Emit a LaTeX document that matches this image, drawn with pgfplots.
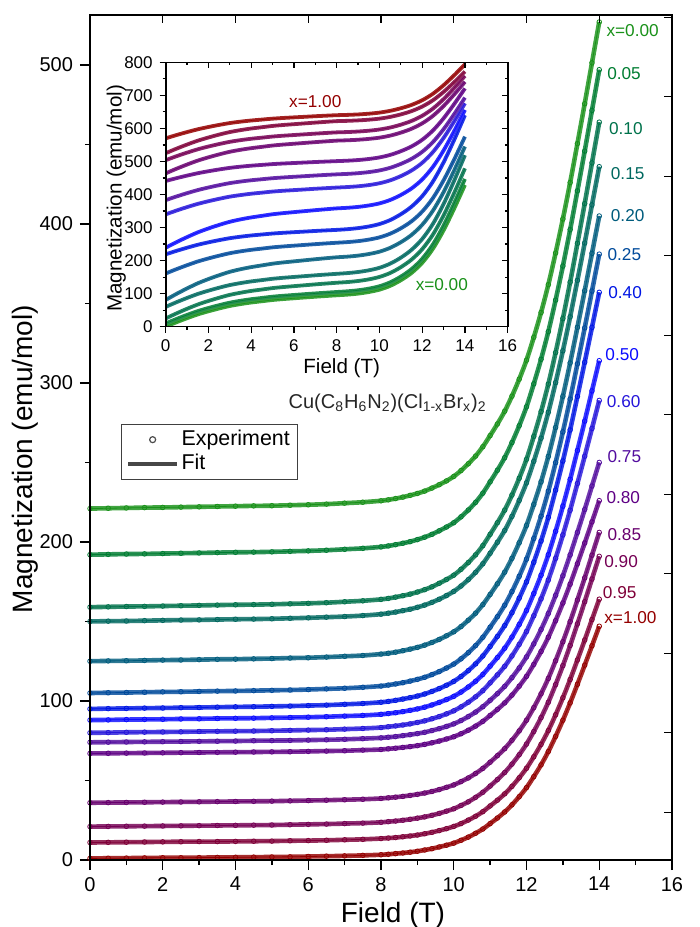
\documentclass[border=0pt]{standalone}
\usepackage{fontspec}
\setmainfont{Liberation Sans}
\usepackage{pgfplots}
\usepackage{pgfplotstable}
\pgfplotsset{compat=1.18}

\definecolor{c00}{RGB}{25,145,25}
\definecolor{c05}{RGB}{0,125,50}
\definecolor{c10}{RGB}{0,114,75}
\definecolor{c15}{RGB}{0,104,95}
\definecolor{c20}{RGB}{0,92,125}
\definecolor{c25}{RGB}{0,74,155}
\definecolor{c40}{RGB}{0,22,228}
\definecolor{c50}{RGB}{12,12,255}
\definecolor{c60}{RGB}{38,22,218}
\definecolor{c75}{RGB}{82,12,158}
\definecolor{c80}{RGB}{94,0,132}
\definecolor{c85}{RGB}{104,0,110}
\definecolor{c90}{RGB}{117,0,84}
\definecolor{c95}{RGB}{127,0,56}
\definecolor{c100}{RGB}{148,0,0}

\pgfplotstableread{
H m00 m05 m10 m15 m20 m25 m40 m50 m60 m75 m80 m85 m90 m95 m100
0 221 192 159 150 125 105 95 88 80 74 67 36 21 11 1
0.5 221.2 192.2 159.2 150.2 125.2 105.2 95.2 88.1 80.1 74.1 67.1 36.1 21.1 11.1 1.1
1 221.4 192.4 159.4 150.3 125.3 105.3 95.3 88.3 80.3 74.2 67.2 36.2 21.2 11.2 1.2
1.5 221.6 192.5 159.5 150.5 125.5 105.5 95.5 88.4 80.4 74.3 67.3 36.3 21.3 11.3 1.3
2 221.7 192.7 159.7 150.7 125.7 105.7 95.6 88.5 80.5 74.4 67.4 36.4 21.4 11.4 1.4
2.5 221.9 192.9 159.9 150.9 125.8 105.8 95.8 88.7 80.6 74.5 67.5 36.5 21.5 11.5 1.4
3 222.1 193.1 160.1 151.0 126.0 106.0 95.9 88.8 80.8 74.6 67.6 36.6 21.6 11.6 1.5
3.5 222.3 193.3 160.3 151.2 126.2 106.2 96.1 89.0 80.9 74.7 67.7 36.7 21.7 11.6 1.6
4 222.5 193.5 160.5 151.4 126.3 106.3 96.3 89.1 81.0 74.8 67.8 36.8 21.8 11.7 1.7
4.5 222.7 193.6 160.6 151.5 126.5 106.5 96.4 89.2 81.1 75.0 67.9 36.9 21.9 11.8 1.8
5 222.8 193.8 160.8 151.7 126.7 106.7 96.6 89.4 81.3 75.1 68.0 37.0 22.0 11.9 1.9
5.5 223.1 194.1 161.1 152.0 127.0 106.9 96.8 89.6 81.5 75.2 68.1 37.2 22.2 12.1 2.0
6 223.4 194.4 161.4 152.3 127.2 107.2 97.1 89.8 81.7 75.4 68.3 37.4 22.4 12.2 2.2
6.5 223.8 194.8 161.8 152.7 127.6 107.6 97.4 90.1 81.9 75.6 68.5 37.6 22.6 12.4 2.4
7 224.4 195.4 162.4 153.1 128.1 108.0 97.9 90.5 82.3 75.9 68.7 37.9 22.9 12.7 2.6
7.5 225.0 196.0 163.0 153.7 128.6 108.6 98.4 90.9 82.7 76.3 69.1 38.2 23.2 13.0 2.9
8 225.9 196.9 163.9 154.6 129.5 109.4 99.2 91.6 83.3 76.8 69.5 38.7 23.7 13.5 3.3
8.2 226.5 197.5 164.5 155.2 130.0 110.0 99.7 92.1 83.8 77.2 69.9 39.1 24.1 13.8 3.6
8.4 227.3 198.3 165.3 155.9 130.7 110.7 100.4 92.6 84.3 77.6 70.3 39.5 24.5 14.1 4.0
8.6 228.2 199.2 166.2 156.8 131.6 111.5 101.2 93.3 84.9 78.2 70.8 40.0 25.0 14.6 4.4
8.8 229.3 200.2 167.2 157.7 132.6 112.5 102.1 94.1 85.6 78.8 71.3 40.6 25.6 15.1 4.9
9.0 230.5 201.5 168.5 158.9 133.7 113.6 103.1 95.0 86.5 79.5 71.9 41.3 26.3 15.7 5.5
9.2 232.0 203.0 170.0 160.3 135.1 114.9 104.4 96.1 87.5 80.3 72.7 42.1 27.1 16.5 6.3
9.4 233.9 204.8 171.8 162.0 136.8 116.6 106.0 97.5 88.8 81.4 73.7 43.1 28.1 17.4 7.1
9.6 236.0 207.0 174.0 164.0 138.7 118.5 107.8 99.1 90.2 82.6 74.8 44.3 29.3 18.5 8.2
9.8 238.4 209.4 176.4 166.3 141.0 120.7 109.9 100.9 91.9 84.0 76.1 45.7 30.7 19.7 9.3
10.0 241.2 212.1 179.1 168.9 143.5 123.2 112.3 102.9 93.8 85.6 77.5 47.2 32.2 21.1 10.6
10.2 244.9 215.8 182.8 172.3 146.8 126.5 115.4 105.6 96.3 87.7 79.4 49.3 34.3 22.9 12.4
10.4 249.2 220.1 187.1 176.3 150.8 130.4 119.1 108.8 99.2 90.2 81.6 51.6 36.6 25.1 14.4
10.6 254.0 224.9 191.9 180.9 155.2 134.8 123.3 112.4 102.6 93.0 84.2 54.4 39.4 27.5 16.8
10.8 259.9 230.7 197.7 186.3 160.6 140.1 128.3 116.7 106.5 96.4 87.2 57.6 42.6 30.4 19.5
11.0 266.9 237.8 204.8 192.9 167.0 146.4 134.3 121.9 111.4 100.4 90.9 61.5 46.5 34.0 22.9
11.2 274.2 245.1 212.1 199.8 173.7 153.0 140.6 127.3 116.4 104.6 94.7 65.6 50.6 37.6 26.4
11.4 282.2 253.0 220.0 207.2 181.0 160.2 147.4 133.2 121.8 109.2 98.8 70.0 55.0 41.6 30.2
11.6 291.7 262.5 229.5 216.1 189.7 168.8 155.5 140.2 128.3 114.7 103.7 75.3 60.3 46.3 34.7
11.8 302.4 273.1 240.1 226.1 199.5 178.4 164.7 148.1 135.6 120.8 109.3 81.2 66.2 51.7 39.8
12.0 314.3 285.0 252.0 237.2 210.4 189.2 174.9 156.9 143.7 127.7 115.5 87.9 72.9 57.7 45.5
12.2 328.7 299.4 266.4 250.7 223.6 202.2 187.2 167.6 153.6 135.9 123.0 95.8 80.8 64.9 52.4
12.4 344.3 314.9 281.9 265.3 237.8 216.2 200.6 179.1 164.2 144.9 131.1 104.5 89.5 72.7 59.8
12.6 361.8 332.3 299.3 281.6 253.8 232.0 215.5 192.0 176.1 155.0 140.1 114.2 99.2 81.4 68.2
12.8 381.7 352.1 319.1 300.2 272.0 249.9 232.6 206.7 189.7 166.4 150.5 125.3 110.3 91.3 77.7
13.0 403.1 373.5 340.5 320.2 291.6 269.2 250.9 222.5 204.4 178.7 161.6 137.2 122.2 102.0 87.9
13.2 426.0 396.4 363.4 341.6 312.6 289.9 270.5 239.4 220.0 191.9 173.5 149.9 134.9 113.5 98.8
13.4 450.5 420.8 387.8 364.5 335.0 312.0 291.5 257.5 236.8 206.0 186.3 163.5 148.5 125.8 110.5
13.6 475.6 445.8 412.8 388.0 358.0 334.6 313.0 276.0 253.9 220.4 199.3 177.4 162.4 138.3 122.5
13.8 501.3 471.4 438.4 412.0 381.5 357.8 335.0 295.0 271.4 235.2 212.6 191.7 176.7 151.2 134.7
14.0 527 497 464 436 405 381 357 314 289 250 226 206 191 164 147
}\maintab

\pgfplotstableread{
H i00 i05 i10 i15 i20 i25 i40 i50 i60 i75 i80 i85 i90 i95 i100
0 0 10 25 60 81 161 219 239 340 383 441 464 504 525 570
0.5 13.3 23.3 40.1 74 99.1 174.0 229.4 255.7 351.3 393.9 449.4 477.9 515.8 538.6 579.8
1 25.7 35.7 54.2 87 115.8 186.1 239.0 271.1 361.9 404.1 457.2 490.7 526.7 551.2 588.9
1.5 37.1 47.1 67.1 99 131.3 197.3 247.9 285.4 371.6 413.4 464.4 502.6 536.8 562.8 597.3
2 46.6 56.6 77.9 109 144.2 206.6 255.3 297.3 379.7 421.2 470.4 512.5 545.2 572.5 604.3
2.5 55.1 65.1 87.6 118 155.8 214.9 261.9 308.0 387.0 428.2 475.8 521.4 552.7 581.3 610.6
3 62.7 72.7 96.3 126 166.1 222.4 267.8 317.5 393.5 434.5 480.6 529.3 559.4 589.0 616.2
3.5 68.4 78.4 102.8 132 173.9 228.0 272.3 324.7 398.3 439.2 484.2 535.3 564.5 594.8 620.4
4 73.2 83.2 108.2 137 180.3 232.6 276.0 330.6 402.4 443.1 487.2 540.2 568.7 599.7 623.9
4.5 77.0 87.0 112.5 141 185.5 236.3 279.0 335.4 405.6 446.2 489.6 544.2 572.0 603.6 626.7
5 80.8 90.8 116.8 145 190.7 240.1 281.9 340.2 408.9 449.3 492.0 548.2 575.4 607.5 629.5
5.5 83.6 93.6 120.0 148 194.5 242.8 284.1 343.7 411.3 451.6 493.8 551.1 577.9 610.4 631.6
6 86.0 96.0 122.7 150.5 197.7 245.2 286.0 346.7 413.3 453.6 495.3 553.6 580.0 612.8 633.4
6.5 88.4 98.4 125.4 153 201.0 247.5 287.8 349.7 415.3 455.5 496.8 556.1 582.1 615.2 635.1
7 90.7 100.7 128.1 155.5 204.2 249.8 289.7 352.6 417.4 457.5 498.3 558.5 584.2 617.6 636.9
7.5 92.9 102.9 130.6 157.8 207.2 252.0 291.4 355.4 419.2 459.3 499.7 560.8 586.2 619.9 638.5
8 95 105 133 160 210 254 293 358 421 461 501 563 588 622 640
8.5 97.0 107.1 135.1 162.2 212.0 256.0 295.1 359.8 422.6 462.4 502.3 564.1 589.0 622.9 640.9
9 100.1 110.2 138.3 165.5 215.1 258.9 298.3 362.5 424.9 464.5 504.3 565.7 590.6 624.3 642.3
9.5 104.9 115.1 143.2 170.6 219.9 263.5 303.2 366.8 428.5 467.8 507.5 568.3 593.0 626.4 644.5
10 112.0 122.4 150.6 178.2 227.0 270.3 310.6 373.1 434.0 472.8 512.2 572.0 596.7 629.6 647.8
10.5 123.5 134.2 162.5 190.7 238.6 281.4 322.6 383.4 442.8 480.8 519.8 578.2 602.6 634.8 653.2
11 140.5 151.6 180.1 208.9 255.6 297.7 340.3 398.6 455.7 492.6 531.0 587.2 611.3 642.4 661.0
11.5 162.5 174.2 203.0 232.6 277.7 318.9 363.2 418.3 472.6 507.9 545.5 599.0 622.6 652.3 671.1
12 193.1 205.4 234.6 265.4 308.4 348.3 394.9 445.5 495.9 529.1 565.6 615.3 638.2 666.1 685.2
12.5 235.5 248.9 278.6 311.0 350.9 389.0 439.0 483.4 528.3 558.6 593.6 637.9 659.9 685.1 704.8
13 291.5 306.2 336.6 371.2 407.1 442.9 497.2 533.3 571.0 597.5 630.4 667.7 688.6 710.3 730.6
13.5 357.7 374.0 405.2 442.4 473.5 506.5 565.9 592.4 621.6 643.5 674.1 703.0 722.5 740.0 761.1
14 429 447 479 519 545 575 640 656 676 693 721 741 759 772 794
}\insettab

\pgfplotsset{
  /pgf/number format/assume math mode=true,
  band/.style={line width=2.3pt, smooth, forget plot, color=#1!82!white},
  fitc/.style={line width=0.4pt, smooth, forget plot, color=#1, mark=o, mark size=1.15pt, mark options={solid, line width=0.4pt, fill=white}},
  iband/.style={line width=1.9pt, smooth, forget plot, color=#1!85!white},
  ifit/.style={line width=0.3pt, smooth, forget plot, color=#1},
}
\newcommand{\maincurve}[2]{%
  \addplot[band=#2] table[x=H,y=#1]{\maintab};
  \addplot[fitc=#2] table[x=H,y=#1]{\maintab};
}
\newcommand{\insetcurve}[2]{%
  \addplot[iband=#2] table[x=H,y=#1]{\insettab};
  \addplot[ifit=#2] table[x=H,y=#1]{\insettab};
}
\newcommand{\lab}[4]{\node[anchor=west, inner sep=0pt, text=#1, font=\fontsize{8.6}{10}\selectfont] at (axis cs:#2,#3) {#4};}

\begin{document}
\begin{tikzpicture}
\useasboundingbox (-45pt,-33.5pt) rectangle (305pt,430pt);
% ---------------- main axis ----------------
\begin{axis}[
  at={(0pt,0pt)}, anchor=south west,
  width=291pt, height=422.5pt, scale only axis,
  xmin=0, xmax=16, ymin=0, ymax=531.4,
  xtick={0,2,...,16}, minor x tick num=1,
  ytick={0,100,...,500}, minor y tick num=1,
  tick align=outside, xtick pos=left, ytick pos=left,
  major tick length=5pt, minor tick length=2.5pt,
  axis line style={line width=1.3pt},
  tick style={black, line width=0.7pt},
  ticklabel style={font=\fontsize{10}{12}\selectfont},
  xlabel={Field (T)},
  xlabel style={at={(axis description cs:0.5206,-0.0734)}, anchor=base, font=\fontsize{14}{16}\selectfont},
  ylabel={Magnetization (emu/mol)},
  ylabel style={at={(axis description cs:-0.098,0.4745)}, anchor=base, font=\fontsize{14}{16}\selectfont},
  legend style={at={(axis cs:0.84,274.4)}, anchor=north west, draw=black!75, line width=0.6pt, fill=white,
    font=\fontsize{10.7}{12.5}\selectfont, inner xsep=2.5pt, inner ysep=1.5pt, row sep=0pt,
    nodes={inner sep=1.2pt, text height=7.7pt, text depth=2.3pt}},
  legend cell align=left,
  legend image code/.code={\draw[mark repeat=2,mark phase=2,#1] plot coordinates {(0pt,0pt) (12.25pt,0pt) (24.5pt,0pt)};},
]
\addlegendimage{only marks, mark=o, mark size=1.5pt, color=black!70, mark options={line width=0.6pt}}
\addlegendentry{Experiment}
\addlegendimage{color=black!72, line width=2pt}
\addlegendentry{Fit}
\maincurve{m100}{c100}
\maincurve{m95}{c95}
\maincurve{m90}{c90}
\maincurve{m85}{c85}
\maincurve{m80}{c80}
\maincurve{m75}{c75}
\maincurve{m60}{c60}
\maincurve{m50}{c50}
\maincurve{m40}{c40}
\maincurve{m25}{c25}
\maincurve{m20}{c20}
\maincurve{m15}{c15}
\maincurve{m10}{c10}
\maincurve{m05}{c05}
\maincurve{m00}{c00}
\lab{c00}{14.19}{521.6}{x=0.00}
\lab{c05}{14.21}{494.3}{0.05}
\lab{c10}{14.26}{459.7}{0.10}
\lab{c15}{14.31}{431.4}{0.15}
\lab{c20}{14.31}{405.1}{0.20}
\lab{c25}{14.22}{381.0}{0.25}
\lab{c40}{14.24}{356.9}{0.40}
\lab{c50}{14.16}{318.0}{0.50}
\lab{c60}{14.20}{288.6}{0.60}
\lab{c75}{14.22}{254.0}{0.75}
\lab{c80}{14.19}{227.8}{0.80}
\lab{c85}{14.22}{204.7}{0.85}
\lab{c90}{14.13}{187.8}{0.90}
\lab{c95}{14.09}{167.9}{0.95}
\lab{c100}{14.13}{152.2}{x=1.00}
\node[anchor=base west, inner sep=0pt, text=black!85, font=\fontsize{10}{12}\selectfont] at (axis cs:5.45,283.8)
  {Cu(C\textsubscript{8}H\textsubscript{6}N\textsubscript{2})(Cl\textsubscript{1-x}Br\textsubscript{x})\textsubscript{2}};
\end{axis}
% top/right ticks of main axis
\begin{axis}[
  at={(0pt,0pt)}, anchor=south west,
  width=291pt, height=422.5pt, scale only axis,
  xmin=0, xmax=16, ymin=0, ymax=531.4,
  xtick={0,2,...,16}, ytick={30,80,...,530},
  xticklabels={}, yticklabels={},
  tick align=inside, xtick pos=right, ytick pos=right,
  major tick length=4pt,
  axis line style={line width=1.3pt},
  tick style={black, line width=0.7pt},
]
\end{axis}
% ---------------- inset ----------------
\begin{axis}[
  at={(37.85pt,266.65pt)}, anchor=south west,
  width=171pt, height=132.2pt, scale only axis,
  axis background/.style={fill=white},
  xmin=0, xmax=16, ymin=0, ymax=800,
  xtick={0,2,...,16}, minor x tick num=1,
  ytick={0,100,...,800}, minor y tick num=1,
  tick align=outside, xtick pos=left, ytick pos=left,
  major tick length=3pt, minor tick length=1.5pt,
  axis line style={line width=0.8pt},
  tick style={black, line width=0.6pt},
  ticklabel style={font=\fontsize{8.5}{10}\selectfont},
  xlabel={Field (T)},
  xlabel style={at={(axis description cs:0.5146,-0.176)}, anchor=base, font=\fontsize{10.3}{12}\selectfont},
  ylabel={Magnetization (emu/mol)},
  ylabel style={at={(axis description cs:-0.1292,0.4856)}, anchor=base, font=\fontsize{10.3}{12}\selectfont},
]
\insetcurve{i00}{c00}
\insetcurve{i05}{c05}
\insetcurve{i10}{c10}
\insetcurve{i15}{c15}
\insetcurve{i20}{c20}
\insetcurve{i25}{c25}
\insetcurve{i40}{c40}
\insetcurve{i50}{c50}
\insetcurve{i60}{c60}
\insetcurve{i75}{c75}
\insetcurve{i80}{c80}
\insetcurve{i85}{c85}
\insetcurve{i90}{c90}
\insetcurve{i95}{c95}
\insetcurve{i100}{c100}
\lab{c100}{5.76}{681}{x=1.00}
\lab{c00}{11.68}{126}{x=0.00}
\end{axis}
\begin{axis}[
  at={(37.85pt,266.65pt)}, anchor=south west,
  width=171pt, height=132.2pt, scale only axis,
  xmin=0, xmax=16, ymin=0, ymax=800,
  xtick={0,2,...,16}, minor x tick num=1,
  ytick={0,100,...,800}, minor y tick num=1,
  xticklabels={}, yticklabels={},
  tick align=inside, xtick pos=right, ytick pos=right,
  major tick length=3pt, minor tick length=1.5pt,
  axis line style={line width=0.8pt},
  tick style={black, line width=0.6pt},
]
\end{axis}
\end{tikzpicture}
\end{document}
